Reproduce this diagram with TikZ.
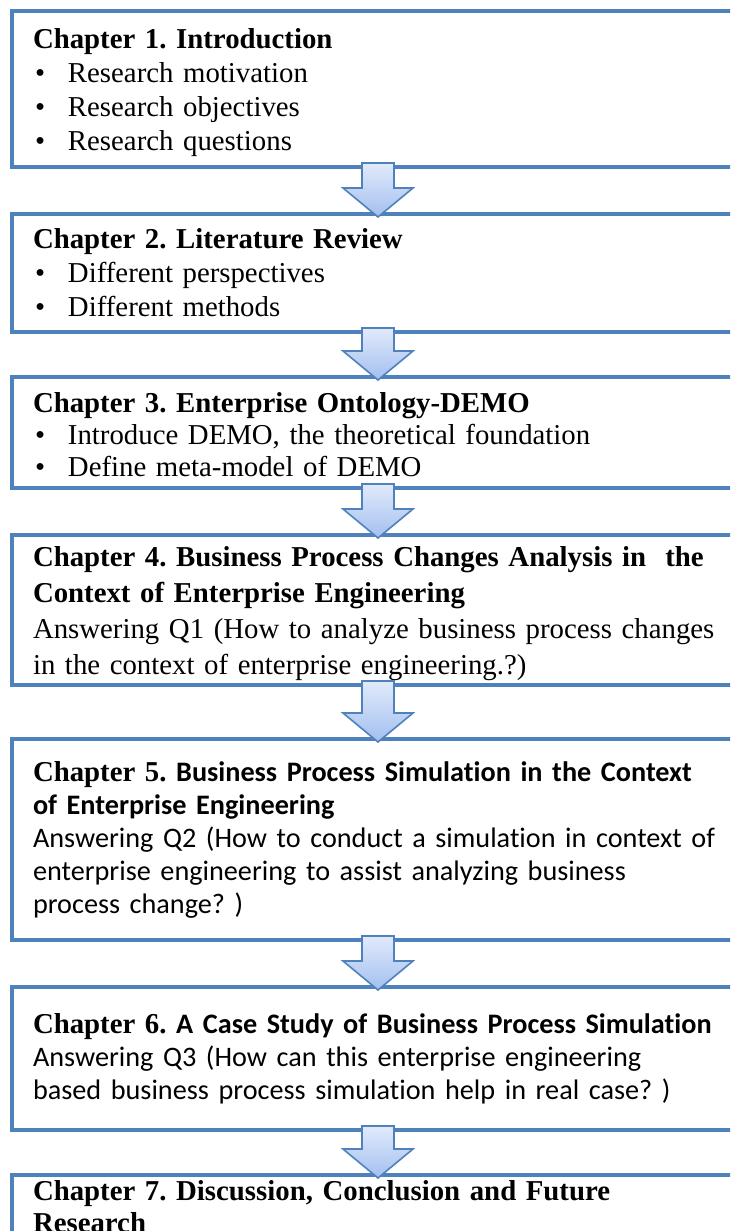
\documentclass[tikz,border=0pt]{standalone}
\usepackage{fontspec}
\setmainfont{Liberation Serif}
\newfontfamily\calibri[Ligatures=NoCommon, Scale=0.98]{Carlito}
\usetikzlibrary{positioning,calc}

\definecolor{boxblue}{HTML}{4F81BD}
\definecolor{arrowtop}{HTML}{E1EAFB}
\definecolor{arrowbottom}{HTML}{A3BFEF}

\newcommand{\chapbullet}{\makebox[17.5pt][l]{\hspace{1pt}\textbullet}}

\begin{document}
\begin{tikzpicture}[x=0.5pt, y=-0.5pt,
    chapbox/.style={draw=boxblue, line width=1.75pt, outer sep=0pt,
        text width=360pt, inner xsep=10.5pt, inner ysep=0pt, align=left,
        font=\frenchspacing\fontsize{14.4}{17}\selectfont},
    blockarrow/.style={draw=boxblue, line width=0.8pt, line join=miter,
        top color=arrowtop, bottom color=arrowbottom}]
    \useasboundingbox (0,0) rectangle (730,1231);
    \clip (0,0) rectangle (730,1231);

    \node[chapbox, anchor=north west, minimum height=78pt] (ch1) at (12,11)
        {\rule{0pt}{14pt}\textbf{Chapter 1. Introduction}\\
         \chapbullet Research motivation\\
         \chapbullet Research objectives\\
         \chapbullet Research questions};
    \node[chapbox, minimum height=59pt, below=23.5pt of ch1] (ch2)
        {\textbf{Chapter 2. Literature Review}\\
         \chapbullet Different perspectives\\
         \chapbullet Different methods};
    \node[chapbox, minimum height=55.5pt, below=22.5pt of ch2] (ch3)
        {\rule{0pt}{12pt}\textbf{Chapter 3. Enterprise Ontology-DEMO}\\[-1pt]
         \chapbullet Introduce DEMO, the theoretical foundation\\[-1pt]
         \chapbullet Define meta-model of DEMO};
    \node[chapbox, minimum height=75pt, below=23.5pt of ch3,
          font=\frenchspacing\fontsize{14.4}{18}\selectfont] (ch4)
        {\rule{0pt}{14pt}\textbf{Chapter 4. Business Process Changes Analysis in\ \ the}\\
         \textbf{Context of Enterprise Engineering}\\
         Answering Q1 (How to analyze business process changes\\
         in the context of enterprise engineering.?)};
    \node[chapbox, minimum height=100.5pt, below=27pt of ch4,
          font=\frenchspacing\fontsize{14.4}{16.5}\selectfont] (ch5)
        {\textbf{Chapter 5.} {\calibri\bfseries Business Process Simulation in the Context}\\
         {\calibri\bfseries of Enterprise Engineering}\\
         {\calibri Answering Q2 (How to conduct a simulation in context of}\\
         {\calibri enterprise engineering to assist analyzing business}\\
         {\calibri process change? )}};
    \node[chapbox, minimum height=71.5pt, below=23.5pt of ch5,
          font=\frenchspacing\fontsize{14.4}{16.5}\selectfont] (ch6)
        {\textbf{Chapter 6.} {\calibri\bfseries A Case Study of Business Process Simulation}\\
         {\calibri Answering Q3 (How can this enterprise engineering}\\
         {\calibri based business process simulation help in real case? )}};
    \node[chapbox, inner ysep=3pt, below=22.5pt of ch6,
          font=\frenchspacing\fontsize{14.4}{16}\selectfont] (ch7)
        {\textbf{Chapter 7. Discussion, Conclusion and Future}\\
         \textbf{Research}};

    % block arrows between the chapters
    \foreach \from/\to in {ch1/ch2, ch2/ch3, ch3/ch4, ch4/ch5, ch5/ch6, ch6/ch7}
        \path[blockarrow] let \p1=($(\from.south west)+(366,0)$), \p2=(\to.north) in
            (\x1-8pt,\y1+2pt) -- (\x1+8pt,\y1+2pt) -- (\x1+8pt,\y2+13pt)
            -- (\x1+17.5pt,\y2+13pt) -- (\x1,\y2-1.5pt) -- (\x1-17.5pt,\y2+13pt)
            -- (\x1-8pt,\y2+13pt) -- cycle;
\end{tikzpicture}
\end{document}
